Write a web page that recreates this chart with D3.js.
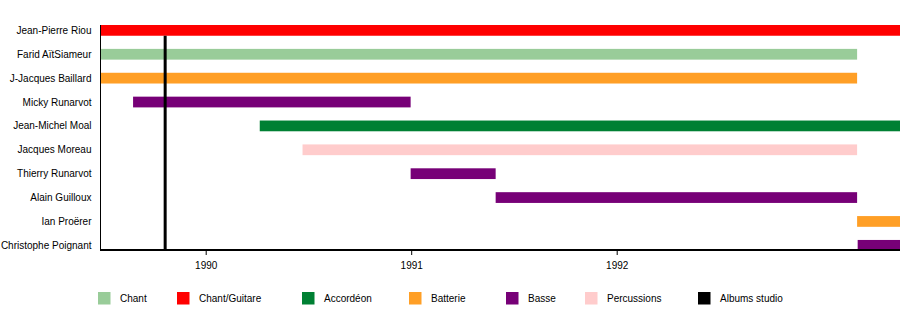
<!DOCTYPE html>
<html><head><meta charset="utf-8">
<script src="https://cdn.jsdelivr.net/npm/d3@7"></script>
<style>body{margin:0;background:#fff}svg{display:block;font-family:"Liberation Sans",Arial,sans-serif}</style>
</head><body><svg id="c" width="900" height="325"></svg>
<script>
// ---- data ----
const members = ["Jean-Pierre Riou","Farid AïtSiameur","J-Jacques Baillard","Micky Runarvot","Jean-Michel Moal","Jacques Moreau","Thierry Runarvot","Alain Guilloux","Ian Proërer","Christophe Poignant"];
const roles = ["Chant/Guitare","Chant","Batterie","Basse","Accordéon","Percussions","Basse","Basse","Batterie","Basse"];
const starts = ["1989-06-28","1989-06-28","1989-06-28","1989-08-25","1990-04-07","1990-06-22","1990-12-31","1991-05-31","1993-03-03","1993-03-04"];
const ends   = ["1993-07-01","1993-03-03","1993-03-03","1990-12-31","1993-07-01","1993-03-03","1991-05-31","1993-03-03","1993-07-01","1993-07-01"];
const albums = ["1989-10-21"];
const tickYears = ["1990","1991","1992"];
const legendLabels = ["Chant","Chant/Guitare","Accordéon","Batterie","Basse","Percussions","Albums studio"];
const legendColors = ["#99cc99","#ff0000","#008033","#ff9f26","#770077","#ffcccc","#000000"];

// ---- layout ----
const L = 100.5, R = 900, T = 25, B = 250.7;
const legendX = [98,177,302,409,506,585,698];
const parse = d3.timeParse("%Y-%m-%d");
const color = d3.scaleOrdinal().domain(legendLabels).range(legendColors);

const svg = d3.select("#c");
const x = d3.scaleTime()
  .domain([parse("1990-01-01"), parse("1992-01-01")])
  .range([205.7, 616.7]);
const y = d3.scaleBand().domain(members).range([T, B]).paddingInner(0.55).paddingOuter(0);

svg.append("defs").append("clipPath").attr("id","clip")
  .append("rect").attr("x",L).attr("y",0).attr("width",R-L).attr("height",300);

const g = svg.append("g").attr("clip-path","url(#clip)");
const rows = members.map((m,i)=>({m, role:roles[i], s:parse(starts[i]), e:parse(ends[i])}));
g.selectAll("rect.bar").data(rows).join("rect").attr("class","bar")
  .attr("x", d=>x(d.s)).attr("width", d=>x(d.e)-x(d.s))
  .attr("y", d=>y(d.m)).attr("height", y.bandwidth())
  .attr("fill", d=>color(d.role));

g.selectAll("line.album").data(albums).join("line").attr("class","album")
  .attr("x1", d=>x(parse(d))).attr("x2", d=>x(parse(d)))
  .attr("y1", y(members[0]) + y.bandwidth()).attr("y2", B)
  .attr("stroke","#000").attr("stroke-width",3);

// left axis line
svg.append("line").attr("x1",L).attr("x2",L).attr("y1",T).attr("y2",B)
  .attr("stroke","#000").attr("stroke-width",1);
// member labels
svg.selectAll("text.lab").data(members).join("text").attr("class","lab")
  .attr("x", L-9).attr("y", d=>y(d)+y.bandwidth()/2).attr("dy","0.35em")
  .attr("text-anchor","end").attr("font-size",10).attr("fill","#000").text(d=>d);

// bottom axis
const ax = svg.append("g").attr("transform",`translate(0,${B-0.7})`)
  .call(d3.axisBottom(x).tickValues(tickYears.map(t=>parse(t+"-01-01")))
    .tickFormat(d3.timeFormat("%Y")).tickSizeOuter(0).tickSize(5).tickPadding(7));
ax.select(".domain").remove();
ax.append("line").attr("x1",L-0.5).attr("x2",R).attr("y1",0).attr("y2",0)
  .attr("stroke","#000").attr("stroke-width",1.8);
ax.selectAll(".tick text").attr("font-size",10).attr("font-family","Liberation Sans, Arial, sans-serif").attr("fill","#000");
ax.selectAll(".tick line").attr("stroke","#000");

// legend
const lg = svg.selectAll("g.leg").data(legendLabels).join("g").attr("class","leg")
  .attr("transform",(d,i)=>`translate(${legendX[i]},292)`);
lg.append("rect").attr("width",12.5).attr("height",12.5).attr("fill",d=>color(d));
lg.append("text").attr("x",22).attr("y",6.5).attr("dy","0.35em").attr("font-size",10).attr("fill","#000").text(d=>d);
</script></body></html>
